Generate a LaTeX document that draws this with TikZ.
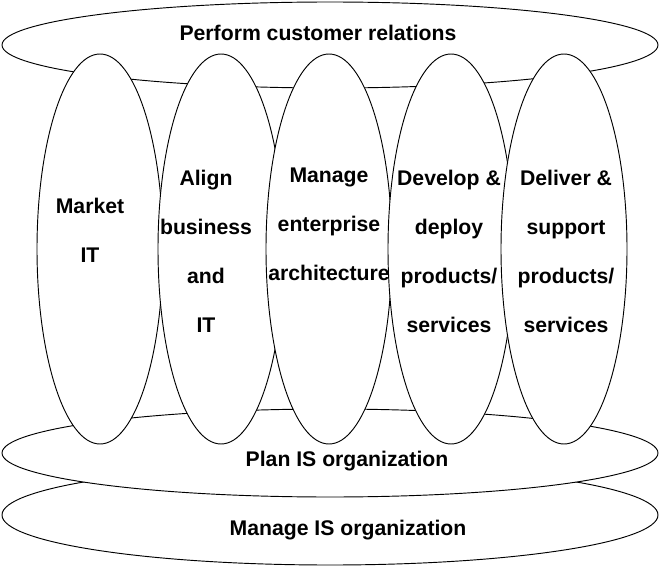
\documentclass[tikz,border=0pt]{standalone}
\usepackage{fontspec}
\setmainfont{Liberation Sans}
\usepackage{tikz}

\begin{document}
\begin{tikzpicture}[x=0.75pt,y=-0.75pt,line width=0.7pt,
		every node/.style={font=\bfseries\fontsize{15.9}{36.75}\selectfont,align=center}]
				\useasboundingbox (0,0) rectangle (660,567);
				% waagerechte Ellipsen (unten zuerst)
				\draw[fill=white] (330,515) ellipse (328 and 50);
				\draw[fill=white] (330,453) ellipse (328 and 44);
				\draw[fill=white] (330,45) ellipse (328 and 43);
				% senkrechte Ellipsen
				\foreach \x in {100,221,329,451,564}
				\draw[fill=white] (\x,249) ellipse (63 and 195);
				\node (perform) at (318,32.5) {Perform customer relations};
				\node (market) at (90,230) {Market\\IT};
				\node (align) at (206,251) {Align\\business\\and\\IT};
				\node (manage) at (329,224) {Manage\\enterprise\\architecture};
				\node (develop) at (449,251) {Develop \&\\deploy\\products/\\services};
				\node (deliver) at (566,251) {Deliver \&\\support\\products/\\services};
				\node (plan) at (347,461) {Plan IS organization};
				\node (manageis) at (348,530) {Manage IS organization};
			\end{tikzpicture}
\end{document}
